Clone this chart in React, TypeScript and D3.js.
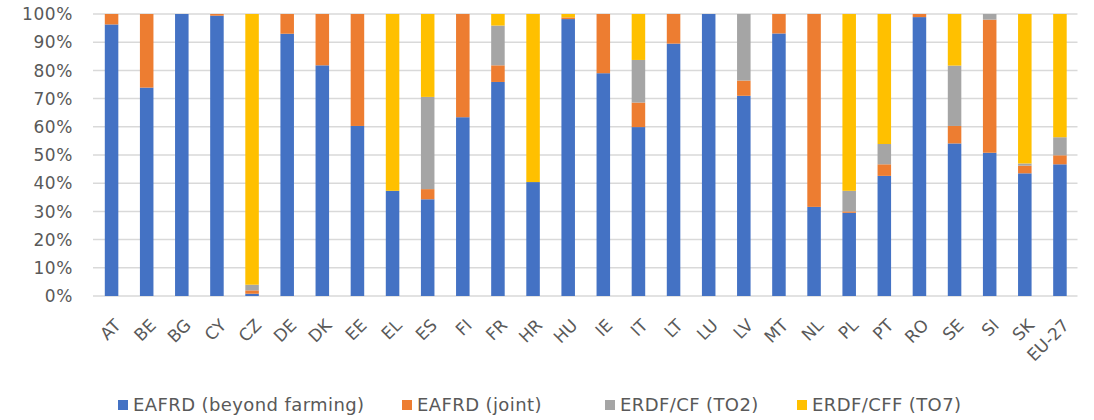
import React from "react";
import * as d3 from "d3";

const categories = ["AT","BE","BG","CY","CZ","DE","DK","EE","EL","ES","FI","FR","HR","HU","IE","IT","LT","LU","LV","MT","NL","PL","PT","RO","SE","SI","SK","EU-27"];
const seriesNames = ["EAFRD (beyond farming)", "EAFRD (joint)", "ERDF/CF (TO2)", "ERDF/CFF (TO7)"];
const beyondFarming = [96.3,73.9,100,99.4,0.8,93.0,81.8,60.3,37.3,34.3,63.4,75.9,40.4,98.2,79.0,59.9,89.5,100,71.0,93.1,31.6,29.5,42.6,98.9,54.1,50.8,43.5,46.7];
const joint =         [3.7,26.1,0,0.6,1.2,7.0,18.2,39.7,0,3.6,36.6,5.9,0,0.6,21.0,8.7,10.5,0,5.4,6.9,68.4,0.5,4.1,1.1,6.2,47.2,2.7,3.2];
const to2 =           [0,0,0,0,2.0,0,0,0,0,32.7,0,14.1,0,0,0,15.1,0,0,23.6,0,0,7.3,7.2,0,21.4,2.0,0.8,6.4];
const to7 =           [0,0,0,0,96.0,0,0,0,62.7,29.4,0,4.1,59.6,1.2,0,16.3,0,0,0,0,0,62.7,46.1,0,18.3,0,53.0,43.7];
const yTicks = [0,10,20,30,40,50,60,70,80,90,100];
const colors = ["#4472C4", "#ED7D31", "#A5A5A5", "#FFC000"];

const W = 1094, H = 420;
const left = 94, right = 1077.5, top = 14, bottom = 296;
const font = "'DejaVu Sans', Verdana, sans-serif";

export default function App() {
  const rows = categories.map((c, i) => ({ cat: c, s0: beyondFarming[i], s1: joint[i], s2: to2[i], s3: to7[i] }));
  const stack = d3.stack<any>().keys(["s0", "s1", "s2", "s3"])(rows);
  const x = d3.scaleBand().domain(categories).range([left, right]).paddingInner(0.615).paddingOuter(0.3075);
  const y = d3.scaleLinear().domain([0, 100]).range([bottom, top]);
  const legendX = [118, 402, 605, 797];
  return (
    <svg width={W} height={H} style={{ position: "absolute", left: 0, top: 0 }}>
      <rect x={0} y={0} width={W} height={H} fill="#fff" />
      {yTicks.map(t => (
        <g key={t}>
          <line x1={left - 1} x2={right} y1={y(t)} y2={y(t)} stroke="#D9D9D9" strokeWidth={1.5} />
          <text x={73} y={y(t)} dy="0.36em" textAnchor="end" fontFamily={font} fontSize={17} letterSpacing={0.6} fill="#595959">{t}%</text>
        </g>
      ))}
      {stack.map((s, si) => (
        <g key={si} fill={colors[si]}>
          {s.map((d, i) => d[1] - d[0] > 0 ? (
            <rect key={i} x={x(categories[i])} width={x.bandwidth()} y={y(d[1])} height={y(d[0]) - y(d[1])} />
          ) : null)}
        </g>
      ))}
      {categories.map(c => (
        <text key={c} fontFamily={font} fontSize={17} fill="#595959" textAnchor="end"
          transform={`translate(${(x(c) as number) + x.bandwidth() / 2 + 6},${bottom + 26}) rotate(-45)`} dy="0.36em">{c}</text>
      ))}
      {seriesNames.map((n, i) => (
        <g key={n}>
          <rect x={legendX[i]} y={400} width={10} height={10} fill={colors[i]} />
          <text x={legendX[i] + 15} y={405} dy="0.36em" fontFamily={font} fontSize={18} letterSpacing={0.4} fill="#595959">{n}</text>
        </g>
      ))}
    </svg>
  );
}
